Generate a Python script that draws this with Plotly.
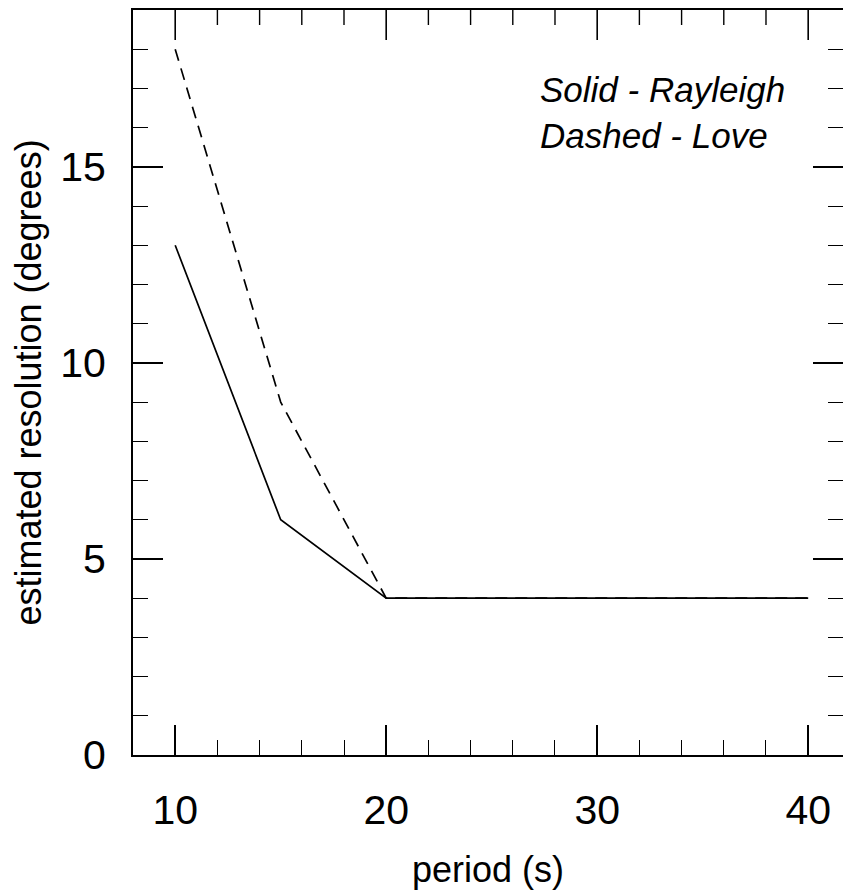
import plotly.graph_objects as go

period = [10, 15, 20, 40]
rayleigh = [13, 6, 4, 4]
love = [18, 9, 4, 4]

x_ticks = [10, 20, 30, 40]
x_minor_ticks = [12, 14, 16, 18, 22, 24, 26, 28, 32, 34, 36, 38]
y_ticks = [0, 5, 10, 15]

FONT = "Liberation Sans, Arial, Helvetica, sans-serif"
X_RANGE = [8, 41.65]
Y_RANGE = [0, 19]

W, H = 843, 890
M = dict(l=133, r=0, t=10, b=135)
PLOT_H = H - M["t"] - M["b"]
Y_PER_PX = (Y_RANGE[1] - Y_RANGE[0]) / PLOT_H

fig = go.Figure()
fig.add_trace(go.Scatter(x=period, y=rayleigh, mode="lines",
                         line=dict(color="black", width=1.7), name="Rayleigh"))
fig.add_trace(go.Scatter(x=period, y=love, mode="lines",
                         line=dict(color="black", width=1.7, dash="12px,8px"), name="Love"))
# invisible trace so the right-hand tick axis is drawn
fig.add_trace(go.Scatter(x=[period[0]], y=[rayleigh[0]], xaxis="x", yaxis="y2", mode="markers",
                         marker=dict(opacity=0), showlegend=False, hoverinfo="skip"))

common_tick = dict(ticklen=30, tickwidth=1.6, tickcolor="black",
                   showgrid=False, zeroline=False)
xminor = dict(dtick=2, ticks="inside", ticklen=15, tickwidth=1.4, tickcolor="black", showgrid=False)
yminor = dict(dtick=1, ticks="inside", ticklen=15, tickwidth=1.4, tickcolor="black", showgrid=False)

# top-edge tick marks (mirrored x ticks), hanging down from the top frame
top = Y_RANGE[1]
top_ticks = []
for v in x_ticks:
    top_ticks.append(dict(type="line", xref="x", yref="y", x0=v, x1=v,
                          y0=top, y1=top - 30 * Y_PER_PX, layer="above",
                          line=dict(color="black", width=1.6)))
for v in x_minor_ticks:
    top_ticks.append(dict(type="line", xref="x", yref="y", x0=v, x1=v,
                          y0=top, y1=top - 15 * Y_PER_PX, layer="above",
                          line=dict(color="black", width=1.4)))

fig.update_layout(
    width=W, height=H,
    margin=M,
    paper_bgcolor="white", plot_bgcolor="white",
    showlegend=False,
    font=dict(family=FONT, color="black"),
    xaxis=dict(range=X_RANGE, tickvals=x_ticks, ticktext=[str(v) for v in x_ticks],
               showline=True, linecolor="black", linewidth=2, mirror=True,
               ticks="inside", tickfont=dict(size=41), ticklabelstandoff=18,
               minor=xminor,
               title=dict(text="period (s)", font=dict(size=36), standoff=32),
               **common_tick),
    yaxis=dict(range=Y_RANGE, tickvals=y_ticks, ticktext=[str(v) for v in y_ticks],
               showline=True, linecolor="black", linewidth=2, mirror=False,
               ticks="inside", tickfont=dict(size=41), ticklabelstandoff=17,
               minor=yminor,
               title=dict(text="estimated resolution (degrees)", font=dict(size=36), standoff=8),
               **common_tick),
    yaxis2=dict(range=Y_RANGE, overlaying="y", side="right", anchor="x", tickvals=y_ticks,
                showticklabels=False, showline=False, ticks="inside",
                minor=yminor, **common_tick),
    shapes=top_ticks,
    annotations=[
        dict(x=27.2, y=16.98, xref="x", yref="y", text="<i>Solid - Rayleigh</i>",
             showarrow=False, xanchor="left", yanchor="middle", font=dict(size=35, family=FONT)),
        dict(x=27.2, y=15.81, xref="x", yref="y", text="<i>Dashed - Love</i>",
             showarrow=False, xanchor="left", yanchor="middle", font=dict(size=35, family=FONT)),
    ],
)

fig.write_html("out.html")
